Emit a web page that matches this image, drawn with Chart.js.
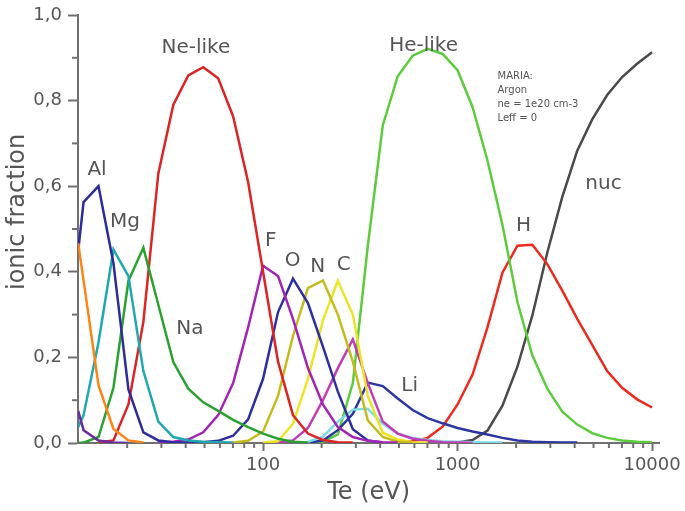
<!DOCTYPE html>
<html>
<head>
<meta charset="utf-8">
<script src="https://cdn.jsdelivr.net/npm/chart.js@4/dist/chart.umd.min.js"></script>
<style>
  body { margin: 0; background: #ffffff; }
  #wrap { width: 685px; height: 511px; }
</style>
</head>
<body>
<div id="wrap"><canvas id="canvas"></canvas></div>
<script>
// Te grid (eV), roughly 13 points per decade
var te = [11.2, 11.94, 14.25, 17.01, 20.31, 24.24, 28.94, 34.55, 41.25, 49.24,
	58.78, 70.17, 83.77, 100, 119.4, 142.5, 170.1, 203.1, 242.4, 289.4,
	345.5, 412.5, 492.4, 587.8, 701.7, 837.7, 1000, 1194, 1425, 1701,
	2031, 2424, 2894, 3455, 4125, 4924, 5878, 7017, 8377, 10000];

// ionic fractions, one array per charge state (null = not drawn)
var siLike = [0.467, 0.38, 0.135, 0.033, 0.006, 0.001, null, null, null, null,
	null, null, null, null, null, null, null, null, null, null,
	null, null, null, null, null, null, null, null, null, null,
	null, null, null, null, null, null, null, null, null, null];
var pLike = [0.075, 0.03, 0.006, 0.001, 0, null, null, null, null, null,
	null, null, null, null, null, null, null, null, null, null,
	null, null, null, null, null, null, null, null, null, null,
	null, null, null, null, null, null, null, null, null, null];
var alLike = [0.448, 0.563, 0.6, 0.42, 0.125, 0.025, 0.006, 0.002, 0.001, null,
	null, null, null, null, null, null, null, null, null, null,
	null, null, null, null, null, null, null, null, null, null,
	null, null, null, null, null, null, null, null, null, null];
var mgLike = [0.037, 0.065, 0.235, 0.452, 0.39, 0.168, 0.05, 0.014, 0.006, 0.003,
	0.002, 0.001, null, null, null, null, null, null, null, null,
	null, null, null, null, null, null, null, null, null, null,
	null, null, null, null, null, null, null, null, null, null];
var naLike = [0, 0.001, 0.014, 0.129, 0.379, 0.456, 0.323, 0.189, 0.127, 0.095,
	0.075, 0.054, 0.037, 0.022, 0.01, 0.003, 0.001, null, null, null,
	null, null, null, null, null, null, null, null, null, null,
	null, null, null, null, null, null, null, null, null, null];
var neLike = [null, null, 0.001, 0.006, 0.09, 0.283, 0.63, 0.79, 0.859, 0.878,
	0.852, 0.763, 0.61, 0.4, 0.19, 0.065, 0.022, 0.007, 0.002, 0.001,
	null, null, null, null, null, null, null, null, null, null,
	null, null, null, null, null, null, null, null, null, null];
var fLike = [null, null, null, null, null, null, 0.001, 0.003, 0.008, 0.025,
	0.065, 0.14, 0.27, 0.414, 0.39, 0.29, 0.175, 0.09, 0.037, 0.014,
	0.005, 0.002, 0.001, null, null, null, null, null, null, null,
	null, null, null, null, null, null, null, null, null, null];
var oLike = [null, null, null, null, null, null, null, null, 0.001, 0.002,
	0.005, 0.017, 0.055, 0.15, 0.306, 0.384, 0.327, 0.225, 0.12, 0.032,
	0.006, 0.001, null, null, null, null, null, null, null, null,
	null, null, null, null, null, null, null, null, null, null];
var nLike = [null, null, null, null, null, null, null, null, null, null,
	null, 0.001, 0.005, 0.027, 0.11, 0.25, 0.362, 0.38, 0.3, 0.19,
	0.053, 0.014, 0.003, 0.001, null, null, null, null, null, null,
	null, null, null, null, null, null, null, null, null, null];
var cLike = [null, null, null, null, null, null, null, null, null, null,
	null, null, null, 0.001, 0.004, 0.045, 0.15, 0.287, 0.379, 0.3,
	0.11, 0.024, 0.008, 0.002, 0.001, null, null, null, null, null,
	null, null, null, null, null, null, null, null, null, null];
var bLike = [null, null, null, null, null, null, null, null, null, null,
	null, null, null, null, 0.001, 0.006, 0.035, 0.1, 0.175, 0.242,
	0.14, 0.05, 0.022, 0.01, 0.005, 0.002, 0.001, 0, null, null,
	null, null, null, null, null, null, null, null, null, null];
var beLike = [null, null, null, null, null, null, null, null, null, null,
	null, null, null, null, null, null, 0.003, 0.015, 0.05, 0.078,
	0.08, 0.045, 0.022, 0.012, 0.007, 0.004, 0.003, 0.002, 0.001, 0.001,
	null, null, null, null, null, null, null, null, null, null];
var liLike = [null, null, null, null, null, null, null, null, null, null,
	null, null, null, null, null, null, 0.001, 0.006, 0.03, 0.068,
	0.141, 0.133, 0.104, 0.077, 0.058, 0.046, 0.035, 0.027, 0.02, 0.012,
	0.006, 0.003, 0.002, 0.001, 0.001, null, null, null, null, null];
var heLike = [null, null, null, null, null, null, null, null, null, null,
	null, null, null, null, null, null, 0.001, 0.003, 0.02, 0.14,
	0.46, 0.742, 0.857, 0.905, 0.921, 0.909, 0.871, 0.785, 0.66, 0.51,
	0.33, 0.205, 0.127, 0.073, 0.043, 0.023, 0.012, 0.006, 0.003, 0.002];
var hLike = [null, null, null, null, null, null, null, null, null, null,
	null, null, null, null, null, null, null, null, null, null,
	null, null, 0.001, 0.004, 0.012, 0.038, 0.09, 0.16, 0.27, 0.398,
	0.461, 0.463, 0.418, 0.356, 0.29, 0.229, 0.168, 0.129, 0.102, 0.083];
var nuc = [null, null, null, null, null, null, null, null, null, null,
	null, null, null, null, null, null, null, null, null, null,
	null, null, null, null, null, 0, 0.001, 0.007, 0.029, 0.087,
	0.178, 0.298, 0.445, 0.575, 0.683, 0.756, 0.813, 0.855, 0.886, 0.913];

var yTicks = [0, 0.2, 0.4, 0.6, 0.8, 1.0];
var yMinor = [0.1, 0.3, 0.5, 0.7, 0.9];
var xTicks = [100, 1000, 10000];
var xMinor = [20, 30, 40, 50, 60, 70, 80, 90, 200, 300, 400, 500, 600, 700, 800, 900,
	2000, 3000, 4000, 5000, 6000, 7000, 8000, 9000];

// curve labels, placed in data coordinates
var curveLabels = [
	{ text: "Al", te: 14.0, f: 0.638 },
	{ text: "Mg", te: 19.5, f: 0.516 },
	{ text: "Na", te: 42.0, f: 0.267 },
	{ text: "Ne-like", te: 45.1, f: 0.923 },
	{ text: "F", te: 109.5, f: 0.472 },
	{ text: "O", te: 142, f: 0.426 },
	{ text: "N", te: 191, f: 0.412 },
	{ text: "C", te: 260, f: 0.417 },
	{ text: "Li", te: 567, f: 0.133 },
	{ text: "He-like", te: 669, f: 0.928 },
	{ text: "H", te: 2183, f: 0.507 },
	{ text: "nuc", te: 5625, f: 0.606 }
];
var noteLines = ["MARIA:", "Argon", "ne = 1e20 cm-3", "Leff = 0"];

var axisColor = "#707070";
var textColor = "#555555";

function series(data, color) {
	return {
		data: data,
		borderColor: color,
		borderWidth: 2.5,
		pointRadius: 0,
		tension: 0,
		fill: false
	};
}

var annotate = {
	id: "annotate",
	afterDraw: function(chart) {
		var ctx = chart.ctx;
		var x = chart.scales.x;
		var y = chart.scales.y;
		var area = chart.chartArea;
		ctx.save();

		// minor ticks
		ctx.strokeStyle = axisColor;
		ctx.lineWidth = 2;
		xMinor.forEach(function(v) {
			var px = x.getPixelForValue(v);
			ctx.beginPath();
			ctx.moveTo(px, area.bottom);
			ctx.lineTo(px, area.bottom + 5);
			ctx.stroke();
		});
		yMinor.forEach(function(v) {
			var py = y.getPixelForValue(v);
			ctx.beginPath();
			ctx.moveTo(area.left, py);
			ctx.lineTo(area.left - 6, py);
			ctx.stroke();
		});

		ctx.fillStyle = textColor;
		ctx.textAlign = "center";
		ctx.textBaseline = "middle";

		// y title, sits a little above the axis middle
		ctx.save();
		ctx.translate(18, y.getPixelForValue(0.54));
		ctx.rotate(-Math.PI / 2);
		ctx.font = '24px "DejaVu Sans"';
		ctx.fillText("ionic fraction", 0, 0);
		ctx.restore();

		ctx.font = '20px "DejaVu Sans"';
		curveLabels.forEach(function(l) {
			ctx.fillText(l.text, x.getPixelForValue(l.te), y.getPixelForValue(l.f));
		});

		ctx.textAlign = "left";
		ctx.font = '10px "DejaVu Sans"';
		var nx = x.getPixelForValue(1605);
		var ny = y.getPixelForValue(0.857);
		noteLines.forEach(function(line, i) {
			ctx.fillText(line, nx, ny + i * 14);
		});
		ctx.restore();
	}
};

var ctx = document.getElementById("canvas").getContext("2d");
var chart = new Chart(ctx, {
	type: "line",
	data: {
		labels: te,
		datasets: [
			series(pLike, "#6b2ca0"),
			series(siLike, "#ff8418"),
			series(alLike, "#2e2c9c"),
			series(mgLike, "#1fa8b0"),
			series(naLike, "#2aa230"),
			series(neLike, "#dc2424"),
			series(fLike, "#a224b4"),
			series(oLike, "#2e2ea0"),
			series(nLike, "#c4bc1e"),
			series(cLike, "#ece424"),
			series(bLike, "#c23cb6"),
			series(beLike, "#80dce2"),
			series(liLike, "#2c36a2"),
			series(heLike, "#5ccc3c"),
			series(hLike, "#ee2a1e"),
			series(nuc, "#4a4a4a")
		]
	},
	options: {
		responsive: true,
		maintainAspectRatio: false,
		animation: false,
		events: [],
		layout: { padding: { top: 9, right: 25, left: 0, bottom: 0 } },
		plugins: {
			legend: { display: false },
			tooltip: { enabled: false }
		},
		scales: {
			x: {
				type: "logarithmic",
				min: 11.18,
				max: 10900,
				afterFit: function(scale) { scale.height = 68; },
				afterBuildTicks: function(scale) {
					scale.ticks = xTicks.map(function(v) { return { value: v }; });
				},
				border: { color: axisColor, width: 2 },
				grid: { drawOnChartArea: false, drawTicks: true, tickLength: 8, tickWidth: 2, tickColor: axisColor },
				ticks: {
					color: textColor,
					padding: 4,
					maxRotation: 0,
					font: { family: "DejaVu Sans", size: 18 },
					callback: function(v) { return String(v); }
				},
				title: {
					display: true,
					text: "Te (eV)",
					color: textColor,
					padding: { top: 0, bottom: 4 },
					font: { family: "DejaVu Sans", size: 24 }
				}
			},
			y: {
				min: 0,
				max: 1,
				afterFit: function(scale) { scale.width = 78; },
				afterBuildTicks: function(scale) {
					scale.ticks = yTicks.map(function(v) { return { value: v }; });
				},
				border: { color: axisColor, width: 2 },
				grid: { drawOnChartArea: false, drawTicks: true, tickLength: 10, tickWidth: 2, tickColor: axisColor },
				ticks: {
					color: textColor,
					padding: 6,
					font: { family: "DejaVu Sans", size: 18, lineHeight: 1 },
					callback: function(v) { return v.toFixed(1).replace(".", ","); }
				}
			}
		}
	},
	plugins: [annotate]
});
</script>
</body>
</html>
